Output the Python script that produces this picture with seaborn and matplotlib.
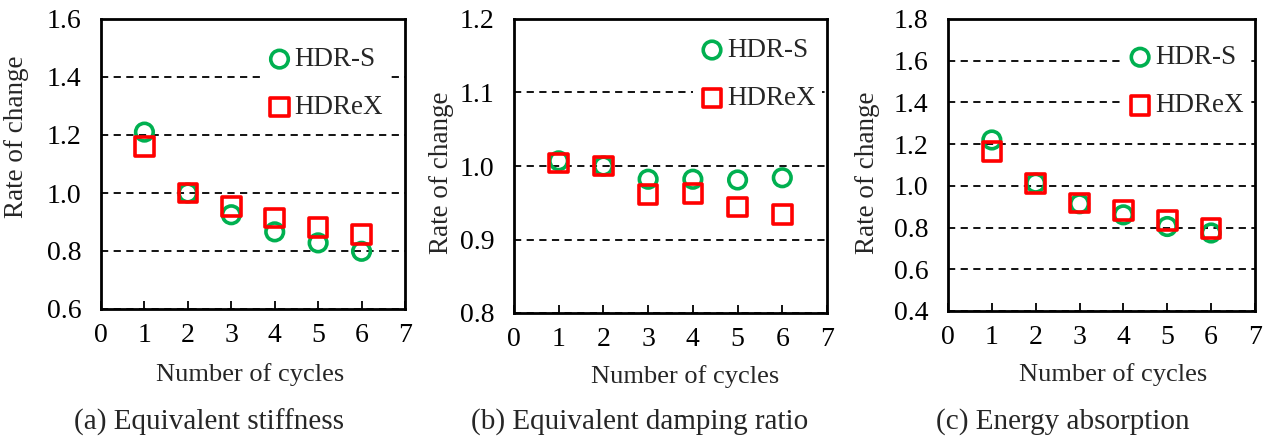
import matplotlib
matplotlib.use("Agg")
import matplotlib.pyplot as plt
import seaborn as sns
import numpy as np

cycles = [1, 2, 3, 4, 5, 6]

# (a) Equivalent stiffness
stiff_hdrs = [1.21, 1.00, 0.925, 0.866, 0.828, 0.799]
stiff_hdrex = [1.16, 1.00, 0.954, 0.914, 0.881, 0.856]

# (b) Equivalent damping ratio
damp_hdrs = [1.007, 1.000, 0.982, 0.982, 0.981, 0.984]
damp_hdrex = [1.004, 1.000, 0.961, 0.963, 0.944, 0.934]

# (c) Energy absorption
energy_hdrs = [1.220, 1.013, 0.914, 0.861, 0.805, 0.774]
energy_hdrex = [1.164, 1.010, 0.917, 0.882, 0.834, 0.797]

captions = ["(a) Equivalent stiffness", "(b) Equivalent damping ratio", "(c) Energy absorption"]
y_limits = [(0.6, 1.6), (0.8, 1.2), (0.4, 1.8)]
y_steps = [0.2, 0.1, 0.2]

GREEN = "#00B050"
RED = "#FF0000"

sns.set_style("white")
plt.rcParams["font.family"] = ["Liberation Serif", "DejaVu Serif"]

fig = plt.figure(figsize=(12.67, 4.38), dpi=100)
W, H = 1267, 438

# axes boxes in pixels: left, top, right, bottom
boxes = [(101, 19, 405, 309), (514, 19, 827, 313), (948, 19, 1255, 311)]
ylabel_px = [(17, 137), (442, 173), (867, 173)]
xlabel_px = [(250, 375), (685, 377), (1113, 375)]
caption_px = [(209, 422), (640, 422), (1063, 422)]
legend_anchor = [(0.95, 0.926), (0.985, 0.958), (0.985, 0.933)]

data = [(stiff_hdrs, stiff_hdrex), (damp_hdrs, damp_hdrex), (energy_hdrs, energy_hdrex)]

for i in range(3):
    l, t, r, b = boxes[i]
    ax = fig.add_axes([l / W, 1 - b / H, (r - l) / W, (b - t) / H])
    hdrs, hdrex = data[i]

    sns.scatterplot(x=cycles, y=hdrs, marker="o", s=160, color=GREEN,
                    facecolors="none", edgecolor=GREEN, linewidth=2.6,
                    label="HDR-S", ax=ax, zorder=3)
    sns.scatterplot(x=cycles, y=hdrex, marker="s", s=180, color=RED,
                    facecolors="none", edgecolor=RED, linewidth=2.6,
                    label="HDReX", ax=ax, zorder=3)

    lo, hi = y_limits[i]
    ax.set_xlim(0, 7)
    ax.set_ylim(lo, hi)
    ax.set_xticks(range(0, 8))
    ax.set_yticks(np.round(np.arange(lo, hi + 1e-9, y_steps[i]), 2))
    ax.yaxis.set_major_formatter(matplotlib.ticker.FormatStrFormatter("%.1f"))

    ax.yaxis.grid(True, color="black", linestyle=(0, (4, 3)), linewidth=1.3)
    ax.xaxis.grid(False)
    ax.set_axisbelow(True)

    for sp in ax.spines.values():
        sp.set_color("black")
        sp.set_linewidth(2.0)

    ax.tick_params(axis="x", direction="in", length=6, width=1.3, bottom=True,
                   top=False, labelsize=20, pad=10, colors="black")
    ax.tick_params(axis="y", length=0, labelsize=20, pad=14, colors="black")

    ax.set_xlabel("Number of cycles", fontsize=19, va="center")
    ax.set_ylabel("Rate of change", fontsize=19.5, va="center")
    xx, xy = xlabel_px[i]
    ax.xaxis.set_label_coords((xx - l) / (r - l), -(xy - b) / (b - t))
    yx, yy = ylabel_px[i]
    ax.yaxis.set_label_coords((yx - l) / (r - l), (b - yy) / (b - t))

    leg = ax.legend(loc="upper right", bbox_to_anchor=legend_anchor[i],
                    borderaxespad=0, frameon=True, fontsize=19.5,
                    handlelength=0.9, handletextpad=0.1, labelspacing=0.85,
                    borderpad=0.25, scatterpoints=1)
    leg.get_frame().set_facecolor("white")
    leg.get_frame().set_edgecolor("none")
    leg.get_frame().set_alpha(1)

    cx, cy = caption_px[i]
    fig.text(cx / W, 1 - cy / H, captions[i], ha="center", va="center", fontsize=21)

fig.savefig("out.png", dpi=100)
